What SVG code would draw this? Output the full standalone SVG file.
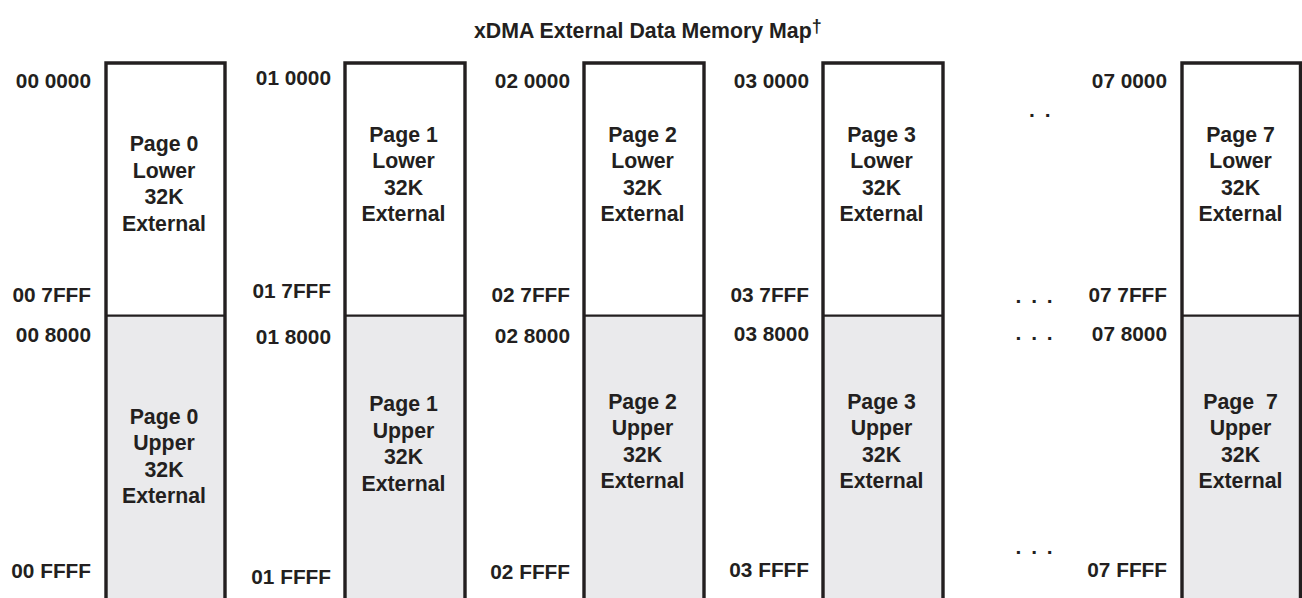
<svg xmlns="http://www.w3.org/2000/svg" width="1302" height="598" viewBox="0 0 1302 598">
<style>
text{font-family:"Liberation Sans",Arial,sans-serif;font-weight:bold;fill:#231f20}
.t{font-size:21.3px}
.a{font-size:20.8px;text-anchor:end}
.p{font-size:21.3px;text-anchor:middle}
.d{font-size:21px;letter-spacing:2px}
.lo{fill:#ffffff}
.up{fill:#eaeaec}
.ol{fill:none;stroke:#231f20;stroke-width:3.4;stroke-linejoin:miter}
.dv{stroke:#231f20;stroke-width:2.2}
</style>
<rect width="1302" height="598" fill="#ffffff"/>
<text class="t" x="474" y="38">xDMA External Data Memory Map<tspan font-size="18" dy="-6">†</tspan></text>

<g id="page0">
<rect class="lo" x="106" y="63" width="119" height="253"/>
<rect class="up" x="106" y="316" width="119" height="284"/>
<line class="dv" x1="106" y1="315.7" x2="225" y2="315.7"/>
<path class="ol" d="M106,602 V63 H225 V602"/>
<text class="p" x="164" y="151">Page 0</text><text class="p" x="164" y="177.5">Lower</text><text class="p" x="164" y="204">32K</text><text class="p" x="164" y="230.5">External</text>
<text class="p" x="164" y="423.5">Page 0</text><text class="p" x="164" y="450">Upper</text><text class="p" x="164" y="476.5">32K</text><text class="p" x="164" y="503">External</text>
<text class="a" x="91" y="88">00 0000</text><text class="a" x="91" y="302">00 7FFF</text><text class="a" x="91" y="341.5">00 8000</text><text class="a" x="91" y="578">00 FFFF</text>
</g>

<g id="page1">
<rect class="lo" x="345" y="63" width="120" height="253"/>
<rect class="up" x="345" y="316" width="120" height="284"/>
<line class="dv" x1="345" y1="315.7" x2="465" y2="315.7"/>
<path class="ol" d="M345,602 V63 H465 V602"/>
<text class="p" x="403.5" y="141.5">Page 1</text><text class="p" x="403.5" y="168">Lower</text><text class="p" x="403.5" y="194.5">32K</text><text class="p" x="403.5" y="221">External</text>
<text class="p" x="403.5" y="411">Page 1</text><text class="p" x="403.5" y="437.5">Upper</text><text class="p" x="403.5" y="464">32K</text><text class="p" x="403.5" y="490.5">External</text>
<text class="a" x="331" y="85">01 0000</text><text class="a" x="331" y="298">01 7FFF</text><text class="a" x="331" y="344">01 8000</text><text class="a" x="331" y="584">01 FFFF</text>
</g>

<g id="page2">
<rect class="lo" x="584" y="63" width="120" height="253"/>
<rect class="up" x="584" y="316" width="120" height="284"/>
<line class="dv" x1="584" y1="315.7" x2="704" y2="315.7"/>
<path class="ol" d="M584,602 V63 H704 V602"/>
<text class="p" x="642.5" y="141.5">Page 2</text><text class="p" x="642.5" y="168">Lower</text><text class="p" x="642.5" y="194.5">32K</text><text class="p" x="642.5" y="221">External</text>
<text class="p" x="642.5" y="408.5">Page 2</text><text class="p" x="642.5" y="435">Upper</text><text class="p" x="642.5" y="461.5">32K</text><text class="p" x="642.5" y="488">External</text>
<text class="a" x="570" y="88">02 0000</text><text class="a" x="570" y="302">02 7FFF</text><text class="a" x="570" y="342.5">02 8000</text><text class="a" x="570" y="579">02 FFFF</text>
</g>

<g id="page3">
<rect class="lo" x="823" y="63" width="120" height="253"/>
<rect class="up" x="823" y="316" width="120" height="284"/>
<line class="dv" x1="823" y1="315.7" x2="943" y2="315.7"/>
<path class="ol" d="M823,602 V63 H943 V602"/>
<text class="p" x="881.5" y="141.5">Page 3</text><text class="p" x="881.5" y="168">Lower</text><text class="p" x="881.5" y="194.5">32K</text><text class="p" x="881.5" y="221">External</text>
<text class="p" x="881.5" y="408.5">Page 3</text><text class="p" x="881.5" y="435">Upper</text><text class="p" x="881.5" y="461.5">32K</text><text class="p" x="881.5" y="488">External</text>
<text class="a" x="809" y="88">03 0000</text><text class="a" x="809" y="302">03 7FFF</text><text class="a" x="809" y="341">03 8000</text><text class="a" x="809" y="576.5">03 FFFF</text>
</g>

<g id="ellipsis">
<text class="d" x="1029" y="116.5">. .</text>
<text class="d" x="1015.5" y="302.5">. . .</text>
<text class="d" x="1015.5" y="340">. . .</text>
<text class="d" x="1015.5" y="554">. . .</text>
</g>

<g id="page7">
<rect class="lo" x="1182" y="63" width="119" height="253"/>
<rect class="up" x="1182" y="316" width="119" height="284"/>
<line class="dv" x1="1182" y1="315.7" x2="1301" y2="315.7"/>
<path class="ol" d="M1182,602 V63 H1300.5 V602"/>
<text class="p" x="1240.5" y="141.5">Page 7</text><text class="p" x="1240.5" y="168">Lower</text><text class="p" x="1240.5" y="194.5">32K</text><text class="p" x="1240.5" y="221">External</text>
<text class="p" x="1240.5" y="408.5" xml:space="preserve">Page  7</text><text class="p" x="1240.5" y="435">Upper</text><text class="p" x="1240.5" y="461.5">32K</text><text class="p" x="1240.5" y="488">External</text>
<text class="a" x="1167" y="88">07 0000</text><text class="a" x="1167" y="302">07 7FFF</text><text class="a" x="1167" y="341">07 8000</text><text class="a" x="1167" y="577">07 FFFF</text>
</g>

<g id="connectors"/>
</svg>
